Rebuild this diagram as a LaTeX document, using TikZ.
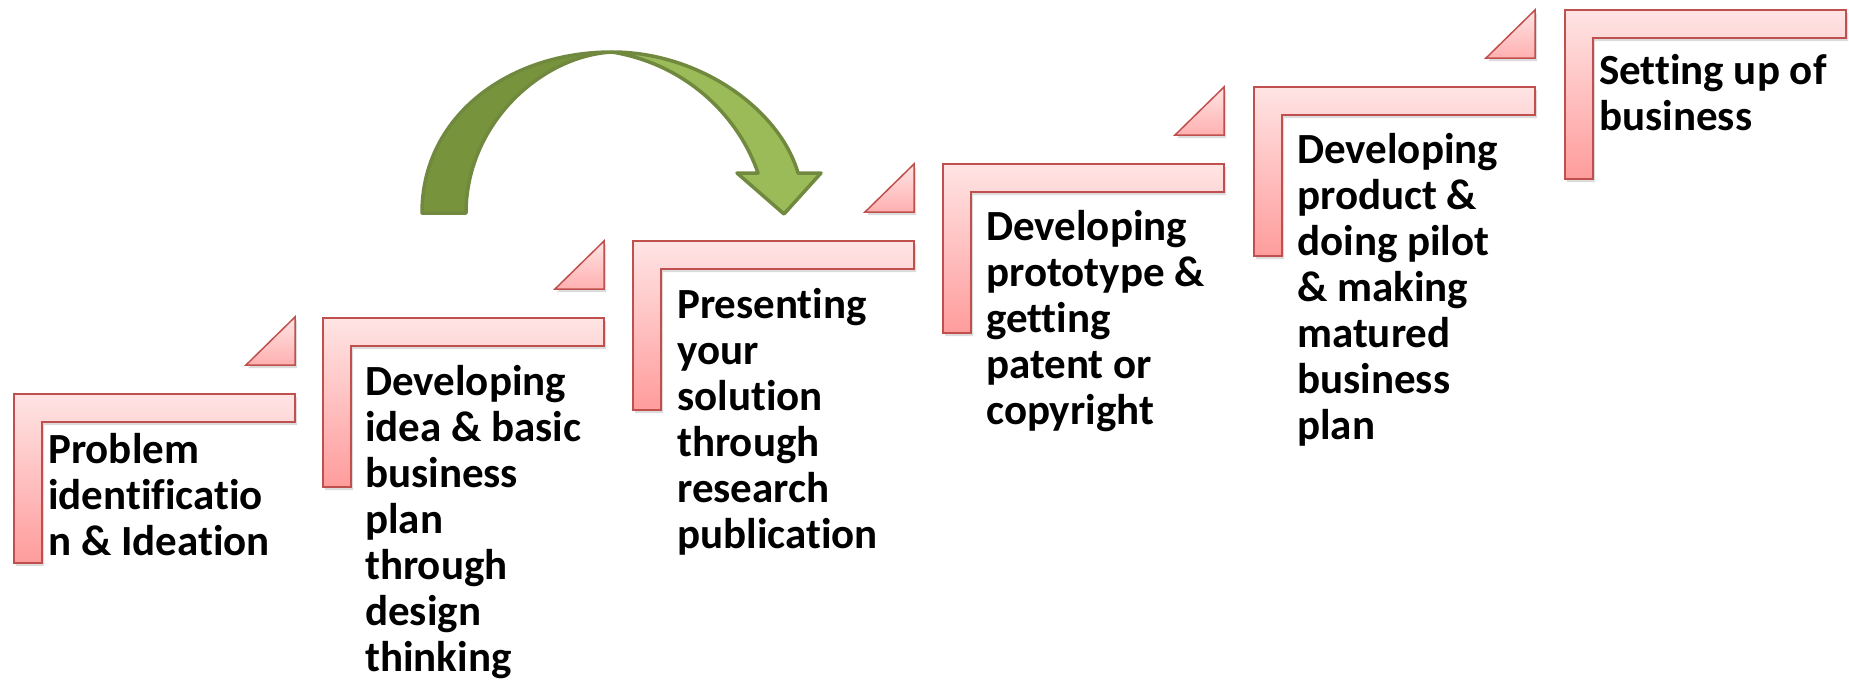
\documentclass[tikz,border=0pt]{standalone}
\usepackage{fontspec}
\setmainfont[Ligatures=NoCommon]{Carlito}
\usetikzlibrary{shadows}
\definecolor{lborder}{HTML}{C0504D}
\definecolor{ltop}{HTML}{FFE4E4}
\definecolor{lbot}{HTML}{FF9C9C}
\definecolor{tbot}{HTML}{FFB0B0}
\definecolor{gdark}{HTML}{77933C}
\definecolor{glight}{HTML}{9BBB59}
\definecolor{gline}{HTML}{71893F}
\newcommand\steptext[1]{\parbox[t]{320pt}{\fontsize{43}{46}\selectfont\bfseries\raggedright #1}}
\begin{document}
\begin{tikzpicture}[x=1pt,y=-1pt,
  stepshape/.style={draw=lborder, line width=1.5pt, line join=miter, top color=ltop, bottom color=lbot,
    drop shadow={opacity=0.28, shadow xshift=2pt, shadow yshift=-3pt}},
  triangleshape/.style={draw=lborder, line width=1.5pt, top color=ltop, bottom color=tbot,
    drop shadow={opacity=0.28, shadow xshift=2pt, shadow yshift=-3pt}},
  lbl/.style={anchor=base west, inner sep=0pt, text=black},
  arrowback/.style={fill=gdark, draw=gline, line width=3.5pt, line join=round},
  arrowfront/.style={fill=glight, draw=gline, line width=3.5pt, line join=round}
]
\useasboundingbox (0,0) rectangle (1849,681);

% steps (L shapes)
\foreach \X/\Y in {14/394, 323/318, 633/241, 943/164, 1254/87, 1565/10} {
  \path[stepshape] (\X,\Y) -- ++(281,0) -- ++(0,28) -- ++(-253,0) -- ++(0,141) -- ++(-28,0) -- cycle;
}
% small triangles
\foreach \X/\Y in {14/394, 323/318, 633/241, 943/164, 1254/87} {
  \path[triangleshape] (\X+232,\Y-29) -- (\X+281,\Y-77) -- (\X+281,\Y-29) -- cycle;
}

% curved arrow
\path[arrowback] (422,213) .. controls (422,115) and (510,52) .. (612,52)
   .. controls (540,56) and (466,125) .. (466,213) -- cycle;
\path[arrowfront] (612,52) .. controls (700,52) and (780,110) .. (798,173)
   -- (821,173) -- (784,214) -- (737,173) -- (758,173)
   .. controls (740,120) and (690,65) .. (612,52) -- cycle;

% labels
\node[lbl] (t1) at (48,463) {\steptext{Problem\\identificatio\\n \& Ideation}};
\node[lbl] (t2) at (365,395) {\steptext{Developing\\idea \& basic\\business\\plan\\through\\design\\thinking}};
\node[lbl] (t3) at (677,318) {\steptext{Presenting\\your\\solution\\through\\research\\publication}};
\node[lbl] (t4) at (986,240) {\steptext{Developing\\prototype \&\\getting\\patent or\\copyright}};
\node[lbl] (t5) at (1297,163) {\steptext{Developing\\product \&\\doing pilot\\\& making\\matured\\business\\plan}};
\node[lbl] (t6) at (1599,84) {\steptext{Setting up of\\business}};
\end{tikzpicture}
\end{document}
